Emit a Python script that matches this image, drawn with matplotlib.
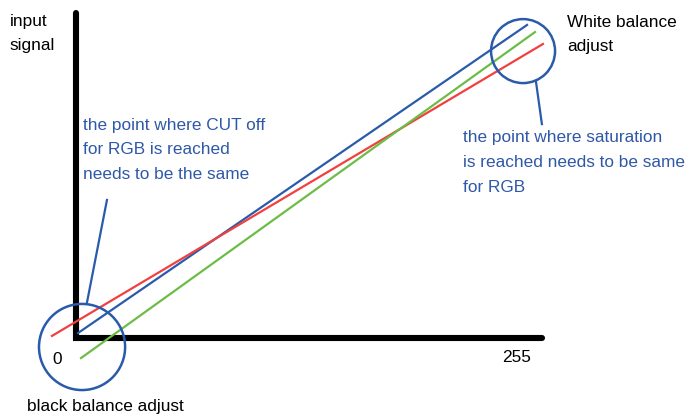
import matplotlib
matplotlib.use("Agg")
import matplotlib.pyplot as plt
from matplotlib.patches import Circle

# scale: 255 input levels across the drawn x range
px = 255 / 441.0

# axis arms (input on x, signal on y)
axis_x = [0, 0, 466 * px]
axis_y = [325 * px, 0, 0]

# transfer lines for R, G, B (start / end points)
blue_x = [1.2, 260.8]
blue_y = [2.9, 181.0]
red_x = [-13.9, 270.0]
red_y = [1.2, 170.0]
green_x = [2.9, 265.4]
green_y = [-11.6, 176.9]

# highlight circles: centre x, centre y, radius
black_circle = (3.5, -5.2, 24.9)
white_circle = (258.5, 165.9, 18.5)

# leader lines from notes to circles
lead_black_x = [17.9, 6.4]
lead_black_y = [79.8, 20.8]
lead_white_x = [266.0, 269.4]
lead_white_y = [148.0, 123.7]

note_blue = "#2f58a8"
line_blue = "#2a5bab"
line_red = "#f0403f"
line_green = "#6cbd45"

fonts = ["Liberation Sans", "DejaVu Sans"]
fs = 12.4
ls = 1.8

fig = plt.figure(figsize=(6.89, 4.15), dpi=100)
ax = fig.add_axes([76 / 689, 77 / 415, 466 / 689, 325 / 415])
ax.set_xlim(0, 466 * px)
ax.set_ylim(0, 325 * px)
ax.axis("off")

ax.plot(axis_x, axis_y, color="black", lw=4.4, solid_capstyle="round",
        solid_joinstyle="miter", clip_on=False, zorder=3)

ax.plot(blue_x, blue_y, color=line_blue, lw=1.6, clip_on=False, zorder=4)
ax.plot(red_x, red_y, color=line_red, lw=1.6, clip_on=False, zorder=4)
ax.plot(green_x, green_y, color=line_green, lw=1.6, clip_on=False, zorder=4)

for cx, cy, r in [black_circle, white_circle]:
    ax.add_patch(Circle((cx, cy), r, fill=False, ec=line_blue, lw=1.8,
                        clip_on=False, zorder=5))

ax.plot(lead_black_x, lead_black_y, color=line_blue, lw=1.6, clip_on=False)
ax.plot(lead_white_x, lead_white_y, color=line_blue, lw=1.6, clip_on=False)

ax.text(4.0, 127.5, "the point where CUT off\nfor RGB is reached\nneeds to be the same",
        color=note_blue, fontsize=fs, family=fonts, ha="left", va="top",
        linespacing=ls)
ax.text(223.8, 120.0, "the point where saturation\nis reached needs to be same\nfor RGB",
        color=note_blue, fontsize=fs, family=fonts, ha="left", va="top",
        linespacing=ls)

ax.text(283.9, 187.0, "White balance\nadjust", color="black", fontsize=fs,
        family=fonts, ha="left", va="top", linespacing=ls)
ax.text(-38.2, 187.5, "input\nsignal", color="black", fontsize=fs,
        family=fonts, ha="left", va="top", linespacing=ls)
ax.text(-11.0, -12.7, "0", color="black", fontsize=fs, family=fonts,
        ha="center", va="center")
ax.text(255.0, -11.0, "255", color="black", fontsize=fs, family=fonts,
        ha="center", va="center")
ax.text(-28.3, -39.5, "black balance adjust", color="black", fontsize=fs,
        family=fonts, ha="left", va="center")

fig.savefig("out.png", dpi=100)
